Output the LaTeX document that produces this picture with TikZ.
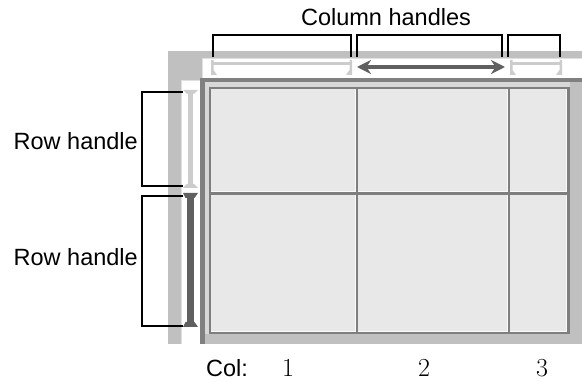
\documentclass[tikz,border=0pt]{standalone}
\usepackage{fontspec}
\setsansfont{Liberation Sans}
\usetikzlibrary{arrows.meta}
\definecolor{panelgray}{HTML}{C0C0C0}
\definecolor{bordergray}{HTML}{808080}
\definecolor{bandgray}{HTML}{D8D8D8}
\definecolor{cellgray}{HTML}{E8E8E8}
\definecolor{gridgray}{HTML}{7E7E7E}
\definecolor{gridlight}{HTML}{FAFAFA}
\definecolor{stripedge}{HTML}{E0E0E0}
\definecolor{handlelight}{HTML}{CCCCCC}
\definecolor{handledark}{HTML}{606060}
\definecolor{ink}{HTML}{000000}
\tikzset{
  lbltext/.style={font=\sffamily\fontsize{23.5}{28}\selectfont,inner sep=0pt,text=ink},
  numtext/.style={font=\fontsize{26}{30}\selectfont,inner sep=0pt,text=ink},
  bracket/.style={draw=ink,line width=1.4pt},
  gridline/.style={draw=gridgray,line width=2.2pt},
  gridhi/.style={draw=gridlight,line width=1.2pt},
  stripline/.style={draw=stripedge,line width=1pt},
  handlelt/.style={fill=handlelight},
  handledk/.style={fill=handledark},
  dragarr/.style={{Stealth[length=14pt,width=14pt,inset=4.5pt]}-{Stealth[length=14pt,width=14pt,inset=4.5pt]},
                  line width=4.5pt,draw=handledark}
}
\begin{document}
\begin{tikzpicture}[x=1pt,y=-1pt]
  \path[use as bounding box] (0,0) rectangle (582,382);
  % panel, strips and sunken border
  \fill[panelgray] (168,51) rectangle (582,344);
  \fill[white] (202,58) rectangle (582,78);
  \fill[white] (181,80) rectangle (200,344);
  \draw[stripline] (202.5,78) -- (202.5,58.5) -- (582,58.5);
  \draw[stripline] (181.5,344) -- (181.5,80.5) -- (200,80.5);
  \fill[bordergray] (200,78) rectangle (582,82);
  \fill[bordergray] (200,78) rectangle (205,344);
  \fill[bandgray] (205,82) rectangle (570,87);
  \fill[bandgray] (205,82) rectangle (209,334);
  % cells
  \fill[cellgray] (209,87) rectangle (569,333);
  \draw[gridhi] (355.3,89) -- (355.3,332);
  \draw[gridhi] (507.3,89) -- (507.3,332);
  \draw[gridhi] (211,191.3) -- (567,191.3);
  \draw[gridhi] (566.3,89) -- (566.3,332);
  \draw[gridhi] (211,331.3) -- (567,331.3);
  \draw[gridline] (209,88) -- (570,88);
  \draw[gridline] (210,87) -- (210,334);
  \draw[gridline] (568.5,87) -- (568.5,334);
  \draw[gridline] (209,333) -- (570,333);
  \draw[gridline] (357,88) -- (357,333);
  \draw[gridline] (509,88) -- (509,333);
  \draw[gridline] (210,193.5) -- (569,193.5);
  % column handles
  \foreach \xa/\xb in {211/352,510/562}{
    \fill[handlelt] (\xa+2,62) rectangle (\xb-2,65.5);
    \fill[handlelt] (\xa,60) -- (\xa+2.5,60) -- (\xa+2.5,70) -- (\xa+6,75) -- (\xa,75) -- cycle;
    \fill[handlelt] (\xb,60) -- (\xb-2.5,60) -- (\xb-2.5,70) -- (\xb-6,75) -- (\xb,75) -- cycle;
  }
  \coordinate (dragL) at (357,67);
  \coordinate (dragR) at (505,67);
  \draw[dragarr] (dragL) -- (dragR);
  % row handles
  \fill[handlelt] (187.5,93) rectangle (193,185);
  \fill[handlelt] (183,90) -- (198,90) -- (194,94) -- (187,94) -- cycle;
  \fill[handlelt] (183,188) -- (198,188) -- (194,184) -- (187,184) -- cycle;
  \fill[handledk] (186.5,197) rectangle (193.5,323);
  \fill[handledk] (183,193) -- (198,193) -- (194.5,198) -- (185.5,198) -- cycle;
  \fill[handledk] (183,327) -- (198,327) -- (194.5,322) -- (185.5,322) -- cycle;
  % brackets
  \coordinate (colA-l) at (213,57);
  \coordinate (colA-r) at (351,57);
  \coordinate (colB-l) at (357,57);
  \coordinate (colB-r) at (502,57);
  \coordinate (colC-l) at (508,57);
  \coordinate (colC-r) at (560,57);
  \coordinate (rowA-t) at (183,92);
  \coordinate (rowA-b) at (183,186);
  \coordinate (rowB-t) at (183,196);
  \coordinate (rowB-b) at (183,326);
  \foreach \c in {colA,colB,colC}
    \draw[bracket] (\c-l) -- ++(0,-22) -| (\c-r);
  \foreach \r in {rowA,rowB}
    \draw[bracket] (\r-t) -- ++(-41,0) |- (\r-b);
  % texts
  \node[lbltext,anchor=base] (coltitle) at (386,26) {Column handles};
  \node[lbltext,anchor=base east] (rowlabA) at (138,150) {Row handle};
  \node[lbltext,anchor=base east] (rowlabB) at (138,266) {Row handle};
  \node[lbltext,anchor=base west] (collab) at (206,377) {Col:};
  \node[numtext,anchor=base] (colnumA) at (288,377) {1};
  \node[numtext,anchor=base] (colnumB) at (424,377) {2};
  \node[numtext,anchor=base] (colnumC) at (542,377) {3};
\end{tikzpicture}
\end{document}
